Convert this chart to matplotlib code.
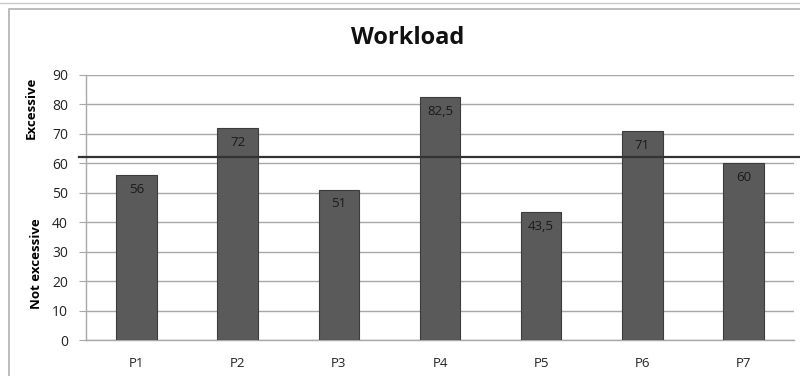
import numpy as np
import matplotlib.pyplot as plt
from matplotlib.patches import Rectangle
from matplotlib.lines import Line2D

plt.rcParams["font.family"] = ["Open Sans", "DejaVu Sans"]

participants = ["P1", "P2", "P3", "P4", "P5", "P6", "P7"]
workload = [56, 72, 51, 82.5, 43.5, 71, 60]
threshold = 62
y_ticks = [0, 10, 20, 30, 40, 50, 60, 70, 80, 90]


def fmt(v):
    # decimal comma, as in the source sheet
    return f"{v:g}".replace(".", ",")


fig = plt.figure(figsize=(8.0, 3.76), dpi=100)

# chart frame
fig.patches.append(Rectangle((9 / 800, -0.1), 1.0, 1 - 9 / 376 + 0.1,
                             transform=fig.transFigure, fill=False,
                             edgecolor="#b0b0b0", linewidth=1.2))
fig.lines.append(Line2D([0, 1], [1 - 3 / 376, 1 - 3 / 376],
                        transform=fig.transFigure, color="#c8c8c8", lw=1))

ax = fig.add_axes([86 / 800, 1 - 340 / 376, 708 / 800, 265 / 376])
x = np.arange(len(participants))
bars = ax.bar(x, workload, width=0.4, color="#5a5a5a",
              edgecolor="#3c3c3c", linewidth=0.8, zorder=3)
for xi, v in zip(x, workload):
    ax.text(xi, v - 2.6, fmt(v), ha="center", va="top",
            fontsize=9.5, color="#1a1a1a", zorder=4)

ax.set_xlim(-0.5, len(participants) - 0.5)
ax.set_ylim(0, 90)
ax.set_yticks(y_ticks)
ax.set_xticks(x, participants)
ax.yaxis.grid(True, color="#a8a8a8", linewidth=1, zorder=0)
ax.tick_params(axis="y", length=5, color="#a8a8a8", labelsize=10,
               labelcolor="#222222", pad=8)
ax.tick_params(axis="x", length=0, labelsize=9.5, labelcolor="#222222", pad=12)
for side in ["top", "right"]:
    ax.spines[side].set_visible(False)
for side in ["left", "bottom"]:
    ax.spines[side].set_color("#a8a8a8")
    ax.spines[side].set_linewidth(1)

# threshold line between "not excessive" and "excessive"
ax.axhline(threshold, xmin=-0.01, xmax=1.02, color="#333333",
           linewidth=1.6, zorder=5, clip_on=False)

fig.text(408 / 800, 1 - 38 / 376, "Workload", ha="center", va="center",
         fontsize=17, fontweight="bold", color="#111111")
fig.text(31 / 800, 1 - 108 / 376, "Excessive", rotation=90,
         ha="center", va="center", fontsize=9.5, fontweight="bold")
fig.text(37 / 800, 1 - 264 / 376, "Not excessive", rotation=90,
         ha="center", va="center", fontsize=9.5, fontweight="bold")

fig.savefig("out.png", dpi=100)
